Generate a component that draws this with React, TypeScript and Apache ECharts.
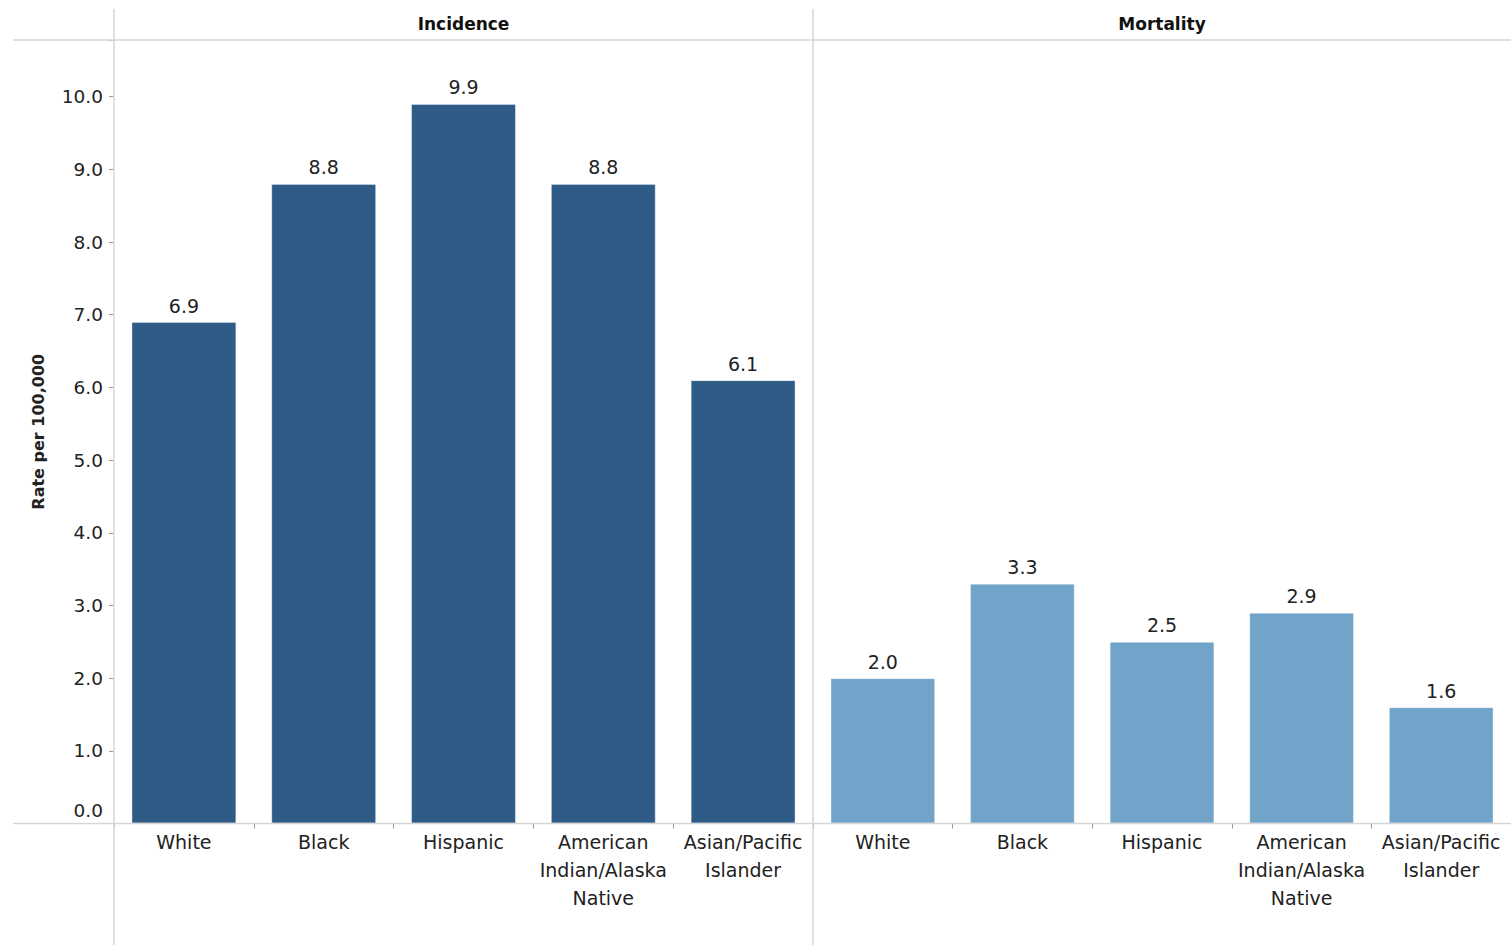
import React, { useEffect, useRef } from "react";
import * as echarts from "echarts";

const categories = [
  "White",
  "Black",
  "Hispanic",
  "American\nIndian/Alaska\nNative",
  "Asian/Pacific\nIslander",
];
const incidence = [6.9, 8.8, 9.9, 8.8, 6.1];
const mortality = [2.0, 3.3, 2.5, 2.9, 1.6];
const panelTitles = ["Incidence", "Mortality"];
const yTitle = "Rate per 100,000";

const FONT = "DejaVu Sans";
const TEXT = "#222";
const RULE = "#d6d6d6";
const DARK = "#2f5b87";
const LIGHT = "#72a4c9";

export default function App() {
  const ref = useRef<HTMLDivElement>(null);

  useEffect(() => {
    if (!ref.current) return;
    const chart = echarts.init(ref.current, undefined, { renderer: "svg" });

    const top = 40;
    const bottom = 945 - 823.5;
    const yMax = 10.78;

    const valueAxis = (show: boolean, gridIndex: number) => ({
      type: "value" as const,
      gridIndex,
      min: 0,
      max: yMax,
      interval: 1,
      splitLine: { show: false },
      axisLine: { show: false },
      axisTick: {
        show,
        length: 5,
        lineStyle: { color: "#999" },
      },
      axisLabel: {
        show,
        margin: 11,
        fontFamily: FONT,
        fontSize: 18.5,
        color: TEXT,
        formatter: (v: number) => {
          if (Math.abs(v - Math.round(v)) > 1e-6) return "";
          if (v === 0) return "{zero|0.0}";
          return v.toFixed(1);
        },
        rich: {
          zero: {
            fontFamily: FONT,
            fontSize: 18.5,
            color: TEXT,
            padding: [0, 0, 26, 0],
          },
        },
      },
      name: show ? yTitle : "",
      nameLocation: "middle" as const,
      nameRotate: 90,
      nameGap: 68,
      nameTextStyle: {
        fontFamily: FONT,
        fontSize: 16,
        fontWeight: "bold" as const,
        color: TEXT,
      },
    });

    const catAxis = (gridIndex: number) => ({
      type: "category" as const,
      gridIndex,
      data: categories,
      axisLine: { show: false },
      axisTick: {
        show: true,
        length: 5,
        lineStyle: { color: "#999" },
      },
      axisLabel: {
        margin: 4,
        fontFamily: FONT,
        fontSize: 19,
        lineHeight: 28,
        color: TEXT,
        interval: 0,
      },
    });

    const barSeries = (data: number[], idx: number, color: string) => ({
      type: "bar" as const,
      xAxisIndex: idx,
      yAxisIndex: idx,
      data,
      barWidth: "75%",
      itemStyle: {
        color,
        borderColor: "rgba(255,255,255,0.35)",
        borderWidth: 1,
      },
      label: {
        show: true,
        position: "top" as const,
        distance: 7,
        fontFamily: FONT,
        fontSize: 19,
        color: TEXT,
        formatter: (p: any) => Number(p.value).toFixed(1),
      },
    });

    const hLine = (y: number) => ({
      type: "line",
      z: 10,
      shape: { x1: 13, y1: y, x2: 1511, y2: y },
      style: { stroke: RULE, lineWidth: 1.5 },
    });
    const vLine = (x: number) => ({
      type: "line",
      z: 10,
      shape: { x1: x, y1: 9, x2: x, y2: 945 },
      style: { stroke: RULE, lineWidth: 1.5 },
    });
    const header = (text: string, cx: number) => ({
      type: "text",
      z: 10,
      x: cx,
      y: 24,
      style: {
        text,
        fontFamily: FONT,
        fontSize: 17,
        fontWeight: "bold",
        fill: "#111",
        align: "center",
        verticalAlign: "middle",
      },
    });

    chart.setOption({
      animation: false,
      backgroundColor: "#fff",
      grid: [
        { left: 114, width: 699, top, bottom },
        { left: 813, width: 698, top, bottom },
      ],
      xAxis: [catAxis(0), catAxis(1)],
      yAxis: [valueAxis(true, 0), valueAxis(false, 1)],
      series: [barSeries(incidence, 0, DARK), barSeries(mortality, 1, LIGHT)],
      graphic: [
        hLine(40),
        hLine(823.5),
        vLine(114),
        vLine(813),
        header(panelTitles[0], 463.5),
        header(panelTitles[1], 1162),
      ],
    });

    return () => chart.dispose();
  }, []);

  return (
    <div
      ref={ref}
      style={{ position: "fixed", left: 0, top: 0, width: 1511, height: 945 }}
    />
  );
}
